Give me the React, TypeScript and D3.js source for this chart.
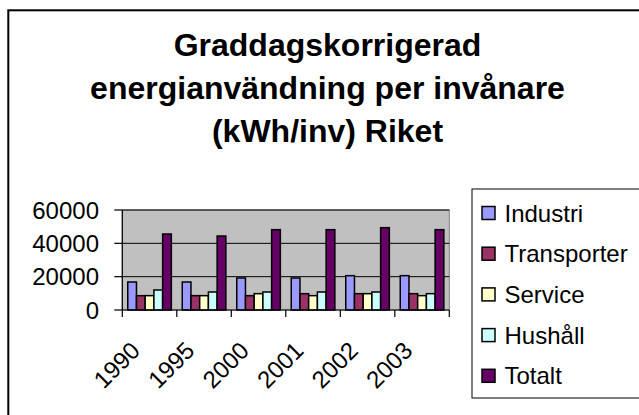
import React from "react";
import * as d3 from "d3";

const years = ["1990", "1995", "2000", "2001", "2002", "2003"];
const seriesNames = ["Industri", "Transporter", "Service", "Hushåll", "Totalt"];
const industri = [16800, 16800, 19200, 19200, 20600, 20600];
const transporter = [8600, 8600, 8600, 9800, 9800, 9800];
const service = [8600, 8600, 9800, 8600, 9800, 8600];
const hushall = [12000, 10800, 10800, 10800, 10800, 9800];
const totalt = [45600, 44400, 48200, 48200, 49400, 48200];
const yTicks = [0, 20000, 40000, 60000];
const titleLines = [
  "Graddagskorrigerad",
  "energianvändning per invånare",
  "(kWh/inv) Riket",
];

const seriesValues = [industri, transporter, service, hushall, totalt];
const colors = ["#9999FF", "#993366", "#FFFFCC", "#CCFFFF", "#660066"];

const W = 639;
const H = 415;
const FONT = "'Liberation Sans', Arial, Helvetica, sans-serif";

export default function App() {
  const plotL = 122.3;
  const plotR = 449.3;
  const plotT = 210;
  const plotB = 310;

  const x = d3
    .scaleBand<string>()
    .domain(years)
    .range([plotL, plotR])
    .paddingInner(0.2)
    .paddingOuter(0.1);
  const xi = d3
    .scaleBand<string>()
    .domain(seriesNames)
    .range([0, x.bandwidth()])
    .padding(0);
  const y = d3.scaleLinear().domain([0, 60000]).range([plotB, plotT]);

  const step = x.step();
  const boundaries = d3.range(years.length + 1).map((i) => plotL + i * step);

  return (
    <svg
      width={W}
      height={H}
      style={{ position: "absolute", left: 0, top: 0, background: "#fff" }}
      fontFamily={FONT}
    >
      <rect x={0} y={0} width={W} height={H} fill="#fff" />
      {/* outer chart border */}
      <rect
        x={8.3}
        y={10.3}
        width={W + 50}
        height={H + 50}
        fill="none"
        stroke="#000"
        strokeWidth={2}
      />
      {/* title */}
      {titleLines.map((t, i) => (
        <text
          key={i}
          x={327.5}
          y={56 + i * 43}
          textAnchor="middle"
          fontWeight="bold"
          fontSize={32}
        >
          {t}
        </text>
      ))}
      {/* plot area */}
      <rect
        x={plotL}
        y={plotT}
        width={plotR - plotL}
        height={plotB - plotT}
        fill="#C0C0C0"
        stroke="#808080"
        strokeWidth={1}
      />
      {/* gridlines */}
      {yTicks
        .filter((v) => v > 0)
        .map((v) => (
          <line
            key={v}
            x1={plotL}
            x2={plotR}
            y1={y(v)}
            y2={y(v)}
            stroke="#000"
            strokeWidth={1}
          />
        ))}
      {/* bars */}
      {years.map((yr, gi) => (
        <g key={yr}>
          {seriesNames.map((s, si) => {
            const v = seriesValues[si][gi];
            return (
              <rect
                key={s}
                x={(x(yr) as number) + (xi(s) as number)}
                y={y(v)}
                width={xi.bandwidth()}
                height={y(0) - y(v)}
                fill={colors[si]}
                stroke="#000"
                strokeWidth={1.5}
              />
            );
          })}
        </g>
      ))}
      {/* axes */}
      <line x1={plotL} x2={plotL} y1={plotT} y2={plotB} stroke="#000" strokeWidth={1.2} />
      <line x1={plotL} x2={plotR} y1={plotB} y2={plotB} stroke="#000" strokeWidth={1.2} />
      {yTicks.map((v) => (
        <g key={v}>
          <line x1={plotL - 8} x2={plotL} y1={y(v)} y2={y(v)} stroke="#000" strokeWidth={1.2} />
          <text
            x={99}
            y={y(v)}
            dy="0.36em"
            textAnchor="end"
            fontSize={24}
          >
            {v}
          </text>
        </g>
      ))}
      {boundaries.map((bx, i) => (
        <line key={i} x1={bx} x2={bx} y1={plotB} y2={plotB + 7} stroke="#000" strokeWidth={1.2} />
      ))}
      {years.map((yr) => {
        const cx = (x(yr) as number) + x.bandwidth() / 2 - 8;
        const cy = 352;
        return (
          <text
            key={yr}
            x={cx}
            y={cy}
            textAnchor="end"
            fontSize={24}
            transform={`rotate(-45 ${cx} ${cy})`}
          >
            {yr}
          </text>
        );
      })}
      {/* legend */}
      <rect
        x={472}
        y={189}
        width={W}
        height={398 - 189}
        fill="#fff"
        stroke="#000"
        strokeWidth={1}
      />
      {seriesNames.map((s, i) => {
        const cy = 213 + i * 40.7;
        return (
          <g key={s}>
            <rect
              x={482}
              y={cy - 6.5}
              width={13}
              height={13}
              fill={colors[i]}
              stroke="#000"
              strokeWidth={1.5}
            />
            <text x={504.5} y={cy} dy="0.36em" fontSize={24}>
              {s}
            </text>
          </g>
        );
      })}
    </svg>
  );
}
